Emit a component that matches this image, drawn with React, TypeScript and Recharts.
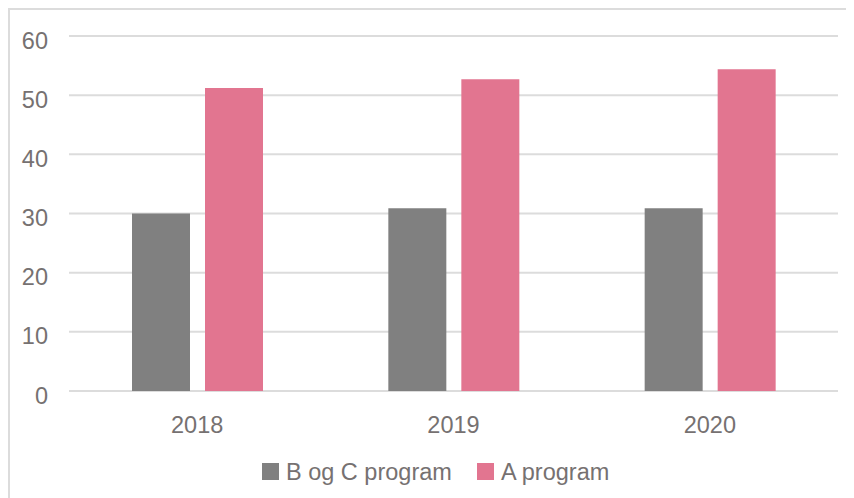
import { BarChart, Bar, XAxis, YAxis, CartesianGrid, Legend } from 'recharts';

const years = ['2018', '2019', '2020'];
const bogCProgram = [30, 30.9, 30.9];
const aProgram = [51.2, 52.7, 54.4];
const yTicks = [0, 10, 20, 30, 40, 50, 60];

const GREY = '#808080';
const PINK = '#e27590';
const TEXT = '#767171';
const GRID = '#dcdcdc';
const FONT = "'Liberation Sans', Arial, sans-serif";

const data = years.map((year, i) => ({
  year,
  bogC: bogCProgram[i],
  a: aProgram[i],
}));

function YTick(props: any) {
  const { x, y, payload } = props;
  return (
    <text x={x - 21} y={y + 12.5} textAnchor="end" fill={TEXT} fontSize={23.5} fontFamily={FONT}>
      {payload.value}
    </text>
  );
}

function XTick(props: any) {
  const { x, y, payload } = props;
  return (
    <text x={x} y={y + 42} textAnchor="middle" fill={TEXT} fontSize={23.5} fontFamily={FONT}>
      {payload.value}
    </text>
  );
}

function LegendContent() {
  const items = [
    { label: 'B og C program', color: GREY },
    { label: 'A program', color: PINK },
  ];
  return (
    <div style={{ display: 'flex', alignItems: 'center', height: 30, fontFamily: FONT, fontSize: 23.5, color: TEXT }}>
      {items.map((item, i) => (
        <div key={item.label} style={{ display: 'flex', alignItems: 'center', marginRight: i === 0 ? 25 : 0 }}>
          <span style={{ display: 'inline-block', width: 17, height: 17, background: item.color, marginRight: 7 }} />
          <span style={{ whiteSpace: 'nowrap', lineHeight: '30px' }}>{item.label}</span>
        </div>
      ))}
    </div>
  );
}

export default function App() {
  return (
    <div
      style={{
        width: 844,
        height: 488,
        borderTop: `2px solid ${GRID}`,
        borderLeft: `2px solid ${GRID}`,
        background: '#fff',
        fontFamily: FONT,
      }}
    >
      <BarChart
        width={844}
        height={488}
        data={data}
        margin={{ top: 26, right: 16, left: 0, bottom: 27 }}
        barSize={58}
        barGap={15}
      >
        <CartesianGrid vertical={false} stroke={GRID} strokeWidth={2} />
        <XAxis
          dataKey="year"
          axisLine={false}
          tickLine={false}
          tickSize={0}
          tickMargin={0}
          height={50}
          tick={<XTick />}
        />
        <YAxis
          domain={[0, 60]}
          ticks={yTicks}
          width={59}
          axisLine={false}
          tickLine={false}
          tickSize={0}
          tickMargin={0}
          tick={<YTick />}
        />
        <Legend
          verticalAlign="bottom"
          content={<LegendContent />}
          wrapperStyle={{ top: 446.5, left: 252, width: 420, height: 30 }}
        />
        <Bar dataKey="bogC" name="B og C program" fill={GREY} isAnimationActive={false} />
        <Bar dataKey="a" name="A program" fill={PINK} isAnimationActive={false} />
      </BarChart>
    </div>
  );
}
